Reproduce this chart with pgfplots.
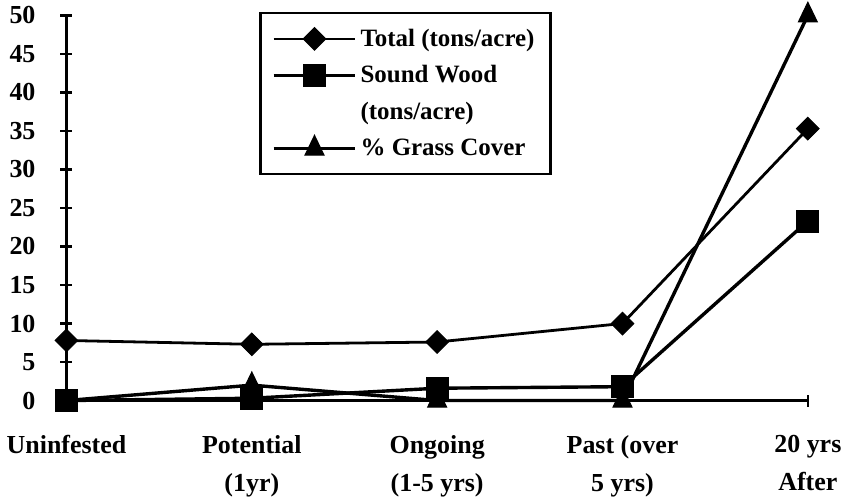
\documentclass[border=0pt]{standalone}
\usepackage{fontspec}
\setmainfont{Liberation Serif}
\usepackage{pgfplots}
\pgfplotsset{compat=1.18}
\begin{document}
\begin{tikzpicture}
\begin{axis}[
  scale only axis, width=371.5pt, height=193pt,
  xmin=0, xmax=4, ymin=0, ymax=50,
  clip=false,
  axis x line=bottom, axis y line=left,
  axis line style={-, line width=1.2pt, black},
  xtick={0,1,2,3,4},
  xticklabels={Uninfested,{Potential\\(1yr)},{Ongoing\\(1-5 yrs)},{Past (over\\5 yrs)},{20 yrs\\After}},
  xticklabel style={align=center, font=\fontsize{13}{19}\selectfont\bfseries, yshift=-11pt},
  ytick={0,5,...,50},
  yticklabel style={font=\fontsize{13}{15}\selectfont\bfseries, xshift=-9pt},
  /pgf/number format/assume math mode=true,
  tick align=center, major tick length=6pt,
  tick style={line width=1.2pt, black},
  legend style={at={(0.26,1.01)}, anchor=north west, draw=black, line width=1.2pt,
    font=\fontsize{12.5}{15}\selectfont\bfseries, row sep=4.2pt, inner sep=6pt,
    cells={anchor=west}},
  legend image code/.code={\draw[#1, line width=1.2pt, mark repeat=2, mark phase=2] plot coordinates {(0pt,0pt) (20.5pt,0pt) (41pt,0pt)};},
]
\addplot[black, line width=1.4pt, mark=square*, mark size=4pt, mark options={rotate=45, solid, line width=0.5pt}]
  coordinates {(0,7.8) (1,7.3) (2,7.6) (3,10.0) (4,35.3)};
\addlegendentry{Total (tons/acre)}
\addplot[black, line width=1.7pt, mark=square*, mark size=5.5pt, mark options={solid, line width=0.5pt}]
  coordinates {(0,0) (1,0.3) (2,1.6) (3,1.8) (4,23.3)};
\addlegendentry{Sound Wood}
\addlegendimage{empty legend}
\addlegendentry{(tons/acre)}
\addplot[black, line width=1.7pt, mark=triangle*, mark size=5.5pt, mark options={solid, line width=0.5pt, yscale=1.2}]
  coordinates {(0,0) (1,2.0) (2,0) (3,0) (4,50)};
\addlegendentry{\% Grass Cover}
\end{axis}
\end{tikzpicture}
\end{document}
